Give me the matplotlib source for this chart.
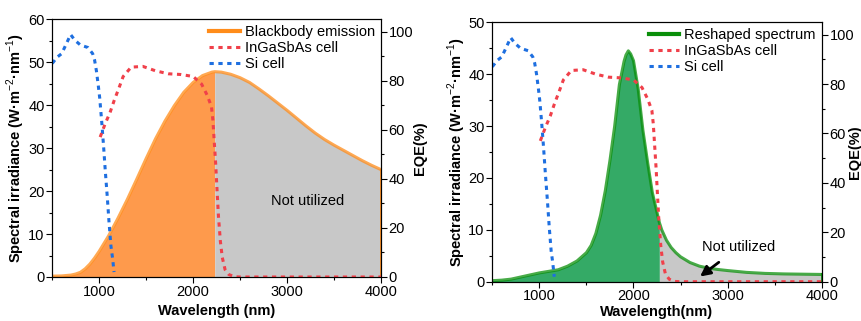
import numpy as np
import matplotlib
matplotlib.use('Agg')
from matplotlib import pyplot as plt
from matplotlib.lines import Line2D
from matplotlib.ticker import MultipleLocator

plt.rcParams['font.family'] = 'Liberation Sans'
plt.rcParams['mathtext.fontset'] = 'custom'
plt.rcParams['mathtext.rm'] = 'Liberation Sans'
plt.rcParams['mathtext.bf'] = 'Liberation Sans:bold'
plt.rcParams['font.size'] = 10.5

# blackbody emission (left panel)
bb_wl = [500, 600, 700, 750, 800, 850, 900, 950, 1000, 1050, 1100, 1200, 1300,
         1400, 1500, 1600, 1700, 1800, 1900, 2000, 2100, 2200, 2230, 2300, 2400,
         2500, 2600, 2700, 2800, 2900, 3000, 3100, 3200, 3300, 3400, 3500, 3600,
         3700, 3800, 3900, 4000]
bb = [0.2, 0.25, 0.45, 0.7, 1.1, 1.9, 3.0, 4.4, 6.0, 7.8, 9.6, 13.7, 18.1,
      22.8, 27.6, 32.2, 36.3, 39.9, 43.0, 45.3, 46.9, 47.7, 47.8, 47.7, 47.2,
      46.4, 45.3, 43.8, 42.2, 40.5, 38.8, 37.0, 35.2, 33.5, 32.0, 30.7, 29.5,
      28.3, 27.1, 26.0, 25.0]
bb_cut = 2230

# reshaped spectrum (right panel)
rs_wl = [500, 600, 700, 800, 900, 1000, 1100, 1200, 1300, 1400, 1500, 1550, 1600,
         1650, 1700, 1750, 1800, 1850, 1900, 1920, 1945, 1970, 2000, 2050, 2100,
         2150, 2200, 2275, 2300, 2350, 2400, 2450, 2500, 2600, 2700, 2800, 2900,
         3000, 3200, 3400, 3600, 3800, 4000]
rs = [0.2, 0.3, 0.5, 0.9, 1.3, 1.7, 2.0, 2.3, 3.0, 4.0, 5.6, 7.0, 9.3,
      12.8, 17.5, 23.4, 30.0, 38.0, 42.5, 43.7, 44.5, 43.9, 42.6, 37.1, 29.2,
      23.0, 17.2, 11.4, 10.0, 8.0, 6.6, 5.6, 4.8, 3.7, 3.0, 2.6, 2.35,
      2.15, 1.8, 1.6, 1.5, 1.45, 1.4]
rs_cut = 2275

# EQE curves
si_wl = [500, 550, 600, 650, 695, 740, 800, 880, 930, 950, 970, 990, 1005, 1025,
         1045, 1065, 1085, 1105, 1125, 1142, 1158]
si = [87, 89.5, 91, 95, 98.8, 96.5, 94.5, 93.5, 91, 88.5, 84, 78, 73, 64,
      54, 43, 33, 22, 12.5, 7.7, 2]
ig_wl = [1010, 1065, 1115, 1160, 1210, 1255, 1340, 1465, 1600, 1735, 1870, 2000,
         2090, 2150, 2195, 2210, 2225, 2240, 2255, 2270, 2290, 2310, 2340, 2380,
         2440, 2500, 3000, 3500, 4000]
ig = [57, 62.6, 67, 72, 77, 81.7, 85.5, 85.8, 84, 82.8, 82.5, 81.7,
      78.6, 74, 69.4, 64, 55, 46, 35, 24.5, 14.5, 8, 3, 1,
      0.1, 0, 0, 0, 0]

C_RED = '#F0404A'
C_BLUE = '#1E6FE0'
C_GRAY = '#C8C8C8'
dots = (0, (1.4, 1.5))


def panel(fig, rect, wl, spec, cut, fill_c, line_c, label, ymax, xlabel,
          xpad, eqe_x, yl_x):
    wl = np.array(wl)
    spec = np.array(spec)
    ax = fig.add_axes(rect)
    ax.fill_between(wl, 0, spec, where=wl <= cut, color=fill_c, lw=0, zorder=1)
    ax.fill_between(wl, 0, spec, where=wl >= cut, color=C_GRAY, lw=0, zorder=1)
    ax.plot(wl, spec, color=line_c, lw=2.2, alpha=0.75, zorder=2)
    ax.plot([wl[-1], wl[-1]], [0, spec[-1]], color=line_c, lw=2, zorder=2)
    ax.set_xlim(500, 4000)
    ax.set_ylim(0, ymax)
    ax.xaxis.set_major_locator(MultipleLocator(1000))
    ax.xaxis.set_minor_locator(MultipleLocator(500))
    ax.yaxis.set_major_locator(MultipleLocator(10))
    ax.yaxis.set_minor_locator(MultipleLocator(5))
    ax.set_xlabel(xlabel, fontweight='bold', labelpad=xpad)
    ax.set_ylabel('Spectral irradiance (W·m$^{-2}$·nm$^{-1}$)', fontweight='bold')
    ax.yaxis.set_label_coords(yl_x, 0.5)

    ax2 = ax.twinx()
    ax2.plot(si_wl, si, color=C_BLUE, lw=2.2, ls=dots)
    ax2.plot(ig_wl, ig, color=C_RED, lw=2.2, ls=dots)
    ax2.set_ylim(0, 105)
    ax2.yaxis.set_major_locator(MultipleLocator(20))
    ax2.yaxis.set_minor_locator(MultipleLocator(10))
    ax2.set_ylabel('EQE(%)', fontweight='bold')
    ax2.yaxis.set_label_coords(eqe_x, 0.5)

    for a in (ax, ax2):
        a.tick_params(which='both', direction='out', top=False)
        a.tick_params(which='major', length=4, width=0.8, pad=1.5)
        a.tick_params(which='minor', length=2.5, width=0.8)
    ax2.tick_params(which='both', bottom=False)

    handles = [Line2D([], [], color=line_c, lw=3),
               Line2D([], [], color=C_RED, lw=2.2, ls=dots),
               Line2D([], [], color=C_BLUE, lw=2.2, ls=dots)]
    ax2.legend(handles, [label, 'InGaSbAs cell', 'Si cell'], loc='upper right',
               frameon=False, handlelength=2.1, handletextpad=0.35,
               labelspacing=0.12, borderaxespad=0.2, borderpad=0.2)
    return ax, ax2


fig = plt.figure(figsize=(8.61, 3.21), dpi=100)

axl, _ = panel(fig, [0.0607, 0.1371, 0.3818, 0.8028], bb_wl, bb, bb_cut,
               '#FE9A4C', '#FF8C1A', 'Blackbody emission', 60, 'Wavelength (nm)',
               4, 1.097, -0.077)
axl.text(3220, 17.7, 'Not utilized', ha='center', va='center', fontsize=10.5)

axr, _ = panel(fig, [0.5718, 0.1224, 0.3826, 0.8081], rs_wl, rs, rs_cut,
               '#34AA66', '#0A8F0A', 'Reshaped spectrum', 50, 'Wavelength(nm)',
               1, 1.080, -0.074)
axr.annotate('Not utilized', xy=(2707, 1.0), xytext=(3114, 6.6),
             ha='center', va='center', fontsize=10.5,
             arrowprops=dict(arrowstyle='-|>', color='black', lw=2,
                             mutation_scale=15, shrinkA=6, shrinkB=0))

fig.savefig('out.png', dpi=100)
